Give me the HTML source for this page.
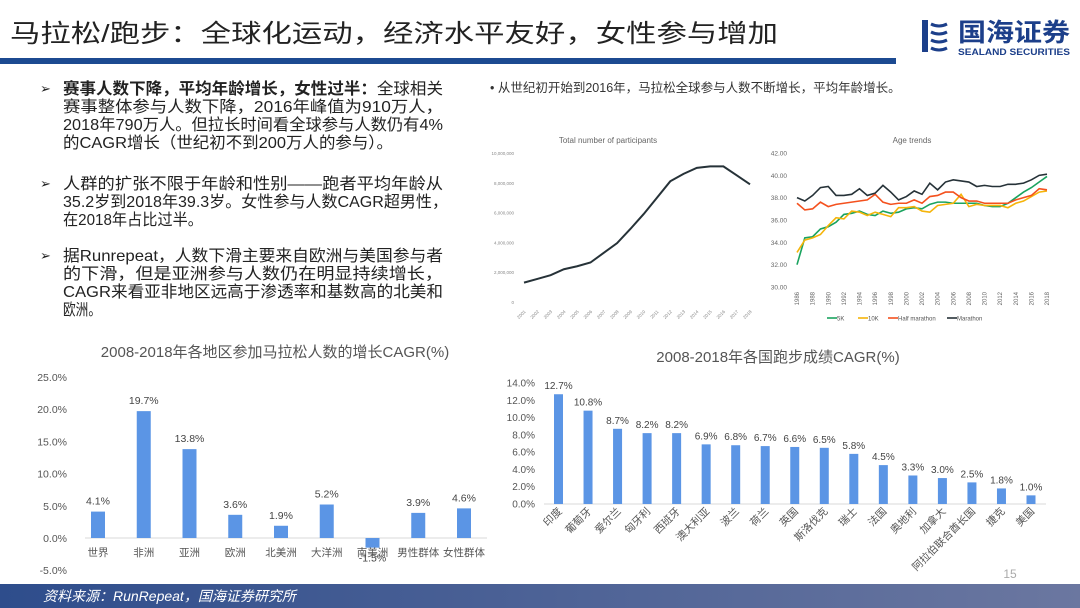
<!DOCTYPE html>
<html><head><meta charset="utf-8"><style>
body{margin:0;background:#fff;}
svg{display:block;font-family:"Liberation Sans","Noto Sans CJK SC",sans-serif;}
</style></head><body>
<svg id="s" width="1080" height="608" viewBox="0 0 1080 608">
<defs><linearGradient id="fg" x1="0" x2="1"><stop offset="0" stop-color="#2e4d8c"/><stop offset="1" stop-color="#6b77a0"/></linearGradient></defs>
<text x="10" y="42" font-size="25" fill="#222" textLength="768" lengthAdjust="spacingAndGlyphs">马拉松/跑步：全球化运动，经济水平友好，女性参与增加</text>
<rect x="0" y="58" width="896" height="6" fill="#1c4a91"/>
<g>
<rect x="922" y="20" width="6" height="32" fill="#1c3f8a"/><path d="M931 24 q8 4 16 0 M931 32 q8 4 16 0 M931 40 q8 4 16 0 M931 48 q8 4 16 0" stroke="#1c3f8a" stroke-width="3" fill="none"/>
<text x="958" y="41" font-size="25" font-weight="bold" fill="#1c3f8a" textLength="112" lengthAdjust="spacingAndGlyphs">国海证券</text>
<text x="958" y="55" font-size="9.5" font-weight="bold" fill="#1c3f8a" textLength="112" lengthAdjust="spacingAndGlyphs">SEALAND SECURITIES</text>
</g>
<g id="bul" font-size="16" fill="#222"></g>
<text x="490" y="92" font-size="12.5" fill="#333">•  从世纪初开始到2016年，马拉松全球参与人数不断增长，平均年龄增长。</text>
<g id="c1"></g>
<g id="c2"></g>
<g id="c3"></g>
<g id="c4"></g>
<rect x="0" y="584" width="1080" height="24" fill="url(#fg)"/>
<text x="43" y="601" font-size="14" font-style="italic" fill="#fff">资料来源：RunRepeat，国海证券研究所</text>
<text x="1010" y="578" font-size="12" fill="#aaa" text-anchor="middle">15</text>
</svg>
<script>
const NS="http://www.w3.org/2000/svg";
function mk(p,t,a,txt){const e=document.createElementNS(NS,t);for(const k in a)e.setAttribute(k,a[k]);if(txt!=null)e.textContent=txt;p.appendChild(e);return e;}
// bullets
const bulletLines=[
[94,["<b>赛事人数下降，平均年龄增长，女性过半：</b>全球相关","赛事整体参与人数下降，2016年峰值为910万人，","2018年790万人。但拉长时间看全球参与人数仍有4%","的CAGR增长（世纪初不到200万人的参与）。"],[380,380,380,330]],
[189,["人群的扩张不限于年龄和性别——跑者平均年龄从","35.2岁到2018年39.3岁。女性参与人数CAGR超男性，","在2018年占比过半。"],[380,385,140]],
[261,["据Runrepeat，人数下滑主要来自欧洲与美国参与者","的下滑，但是亚洲参与人数仍在明显持续增长，","CAGR来看亚非地区远高于渗透率和基数高的北美和","欧洲。"],[380,380,380,38]]];
const bg=document.getElementById('bul');
bulletLines.forEach(b=>{
 const ar=mk(bg,'text',{x:40,y:b[0]-1,'font-size':13},'➢');
 
 b[1].forEach((l,i)=>{
  const t=mk(bg,'text',{x:63,y:b[0]+i*18,textLength:b[2][i],lengthAdjust:'spacingAndGlyphs'});
  
  if(l.startsWith('<b>')){const m=l.match(/<b>(.*)<\/b>(.*)/);mk(t,'tspan',{'font-weight':'bold'},m[1]);mk(t,'tspan',{},m[2]);}
  else t.textContent=l;
 });
});

// Chart 1 data
const pYears=[2001,2002,2003,2004,2005,2006,2007,2008,2009,2010,2011,2012,2013,2014,2015,2016,2017,2018];
const pValues=[1.3,1.55,1.8,2.2,2.4,2.65,3.3,3.95,4.9,5.9,7.0,8.1,8.6,9.0,9.1,9.1,8.5,7.9];
const pTicks=["0","2,000,000","4,000,000","6,000,000","8,000,000","10,000,000"];
// Chart 2 data
const ageYears=[];for(let y=1986;y<=2018;y++)ageYears.push(y);
const ageTicks=["30.00","32.00","34.00","36.00","38.00","40.00","42.00"];
const age5K=[32.0,34.4,34.5,35.2,35.4,35.8,36.5,36.6,36.8,36.5,36.4,36.8,36.6,36.7,37.0,37.1,37.0,37.4,37.6,37.6,37.5,37.5,37.5,37.5,37.3,37.2,37.2,37.5,38.0,38.5,38.9,39.4,39.9];
const age10K=[33.1,34.2,34.4,34.7,35.5,36.2,36.1,36.8,36.7,36.4,36.7,36.5,36.3,37.1,37.1,37.2,36.8,36.7,37.3,37.4,37.5,38.3,37.2,37.4,37.3,37.3,37.3,37.1,37.5,37.7,38.1,38.5,38.6];
const ageHalf=[37.5,36.9,37.0,37.6,37.2,37.4,37.5,37.6,37.7,37.8,38.3,37.6,37.4,37.5,37.5,37.8,37.5,38.1,38.2,38.5,38.5,38.0,37.7,37.7,37.5,37.5,37.5,37.5,37.8,38.0,38.2,38.8,38.7];
const ageMarathon=[38.0,37.7,38.2,38.9,39.0,38.2,38.2,38.3,38.8,38.2,38.4,39.1,38.5,37.8,38.1,38.6,38.3,39.3,38.7,39.4,39.6,39.5,39.4,39.0,39.1,39.0,39.0,39.2,39.2,39.3,39.6,40.0,40.1];
const ageSeriesNames=["5K","10K","Half marathon","Marathon"];
// Chart 3 data
const regions=["世界","非洲","亚洲","欧洲","北美洲","大洋洲","南美洲","男性群体","女性群体"];
const regionValues=[4.1,19.7,13.8,3.6,1.9,5.2,-1.5,3.9,4.6];
const regionTicks=[-5,0,5,10,15,20,25];
// Chart 4 data
const countries=["印度","葡萄牙","爱尔兰","匈牙利","西班牙","澳大利亚","波兰","荷兰","英国","斯洛伐克","瑞士","法国","奥地利","加拿大","阿拉伯联合酋长国","捷克","美国"];
const countryValues=[12.7,10.8,8.7,8.2,8.2,6.9,6.8,6.7,6.6,6.5,5.8,4.5,3.3,3.0,2.5,1.8,1.0];
const countryTicks=[0,2,4,6,8,10,12,14];

// Chart 1
(function(){
 const g=document.getElementById('c1');
 const x=i=>524+i*(750-524)/(pYears.length-1), y=v=>302-v*(302-153)/10;
 const t=mk(g,'text',{x:608,y:143,'font-size':8,fill:'#666','text-anchor':'middle'},'Total number of participants');
 
 pTicks.forEach((s,i)=>{const e=mk(g,'text',{x:514,y:y(i*2)+2,'font-size':4.5,fill:'#888','text-anchor':'end'},s);
  });
 pYears.forEach((yr,i)=>{const e=mk(g,'text',{x:x(i)+2,y:312,'font-size':4.5,fill:'#888','text-anchor':'end',transform:`rotate(-45 ${x(i)+2} 312)`},yr);
  });
 const l=mk(g,'polyline',{points:pValues.map((v,i)=>x(i)+','+y(v)).join(' '),fill:'none',stroke:'#263238','stroke-width':2});
 
})();
// Chart 2
(function(){
 const g=document.getElementById('c2');
 const x=i=>797+i*(1047-797)/(ageYears.length-1), y=v=>287-(v-30)*(287-153)/12;
 const t=mk(g,'text',{x:912,y:143,'font-size':8,fill:'#666','text-anchor':'middle'},'Age trends');
 
 ageTicks.forEach(s=>{const e=mk(g,'text',{x:787,y:y(parseFloat(s))+2.5,'font-size':6.5,fill:'#666','text-anchor':'end'},s);
  });
 ageYears.forEach((yr,i)=>{if(i%2)return;const e=mk(g,'text',{x:x(i)+2,y:292,'font-size':6,fill:'#666','text-anchor':'end',transform:`rotate(-90 ${x(i)+2} 292)`},yr);
  });
 const sers=[age5K,age10K,ageHalf,ageMarathon],cols=['#1aa35f','#f5b40a','#f4511e','#263238'];
 sers.forEach((s,k)=>{const l=mk(g,'polyline',{points:s.map((v,i)=>x(i)+','+y(v)).join(' '),fill:'none',stroke:cols[k],'stroke-width':1.6});
  });
 const lx=[827,858,888,947];
 ageSeriesNames.forEach((n,k)=>{const lg=mk(g,'g',{});
  
  mk(lg,'line',{x1:lx[k],x2:lx[k]+10,y1:318,y2:318,stroke:cols[k],'stroke-width':1.6});
  mk(lg,'text',{x:lx[k]+10,y:320.5,'font-size':6,fill:'#555'},n);});
})();
// Chart 3
(function(){
 const g=document.getElementById('c3');
 const y=v=>538-v*(538-377)/25, x=i=>98+i*(464-98)/(regions.length-1);
 const t=mk(g,'text',{x:275,y:357,'font-size':15,fill:'#555','text-anchor':'middle'},'2008-2018年各地区参加马拉松人数的增长CAGR(%)');
 
 regionTicks.forEach(v=>{const e=mk(g,'text',{x:67,y:y(v)+4,'font-size':10.5,fill:'#555','text-anchor':'end'},v.toFixed(1)+'%');
  });
 const ax=mk(g,'line',{x1:85,x2:487,y1:y(0),y2:y(0),stroke:'#d9d9d9'});
 
 regionValues.forEach((v,i)=>{
  const b=mk(g,'rect',{x:x(i)-7,width:14,y:Math.min(y(v),y(0)),height:Math.abs(y(v)-y(0)),fill:'#5b95e5'});
  
  const ly=v>=0?y(v)-7:y(v)+14;
  const lt=mk(g,'text',{x:x(i),y:ly,'font-size':10.5,fill:'#444','text-anchor':'middle'},v.toFixed(1)+'%');
  
  const c=mk(g,'text',{x:x(i),y:556,'font-size':10.5,fill:'#555','text-anchor':'middle'},regions[i]);
  
 });
})();
// Chart 4
(function(){
 const g=document.getElementById('c4');
 const y=v=>504-v*(504-383)/14, x=i=>558.5+i*(1031-558.5)/(countries.length-1);
 const t=mk(g,'text',{x:778,y:362,'font-size':15,fill:'#555','text-anchor':'middle'},'2008-2018年各国跑步成绩CAGR(%)');
 
 countryTicks.forEach(v=>{const e=mk(g,'text',{x:535,y:y(v)+3.5,'font-size':10,fill:'#555','text-anchor':'end'},v.toFixed(1)+'%');
  });
 const ax=mk(g,'line',{x1:544,x2:1046,y1:y(0),y2:y(0),stroke:'#d9d9d9'});
 
 countryValues.forEach((v,i)=>{
  const b=mk(g,'rect',{x:x(i)-4.5,width:9,y:y(v),height:y(0)-y(v),fill:'#5b95e5'});
  
  const lt=mk(g,'text',{x:x(i),y:y(v)-5,'font-size':10,fill:'#444','text-anchor':'middle'},v.toFixed(1)+'%');
  
  const cx=x(i)+4,cy=512;
  const c=mk(g,'text',{x:cx,y:cy,'font-size':10.5,fill:'#555','text-anchor':'end',transform:`rotate(-45 ${cx} ${cy})`},countries[i]);
  
 });
})();
</script>
</body></html>
